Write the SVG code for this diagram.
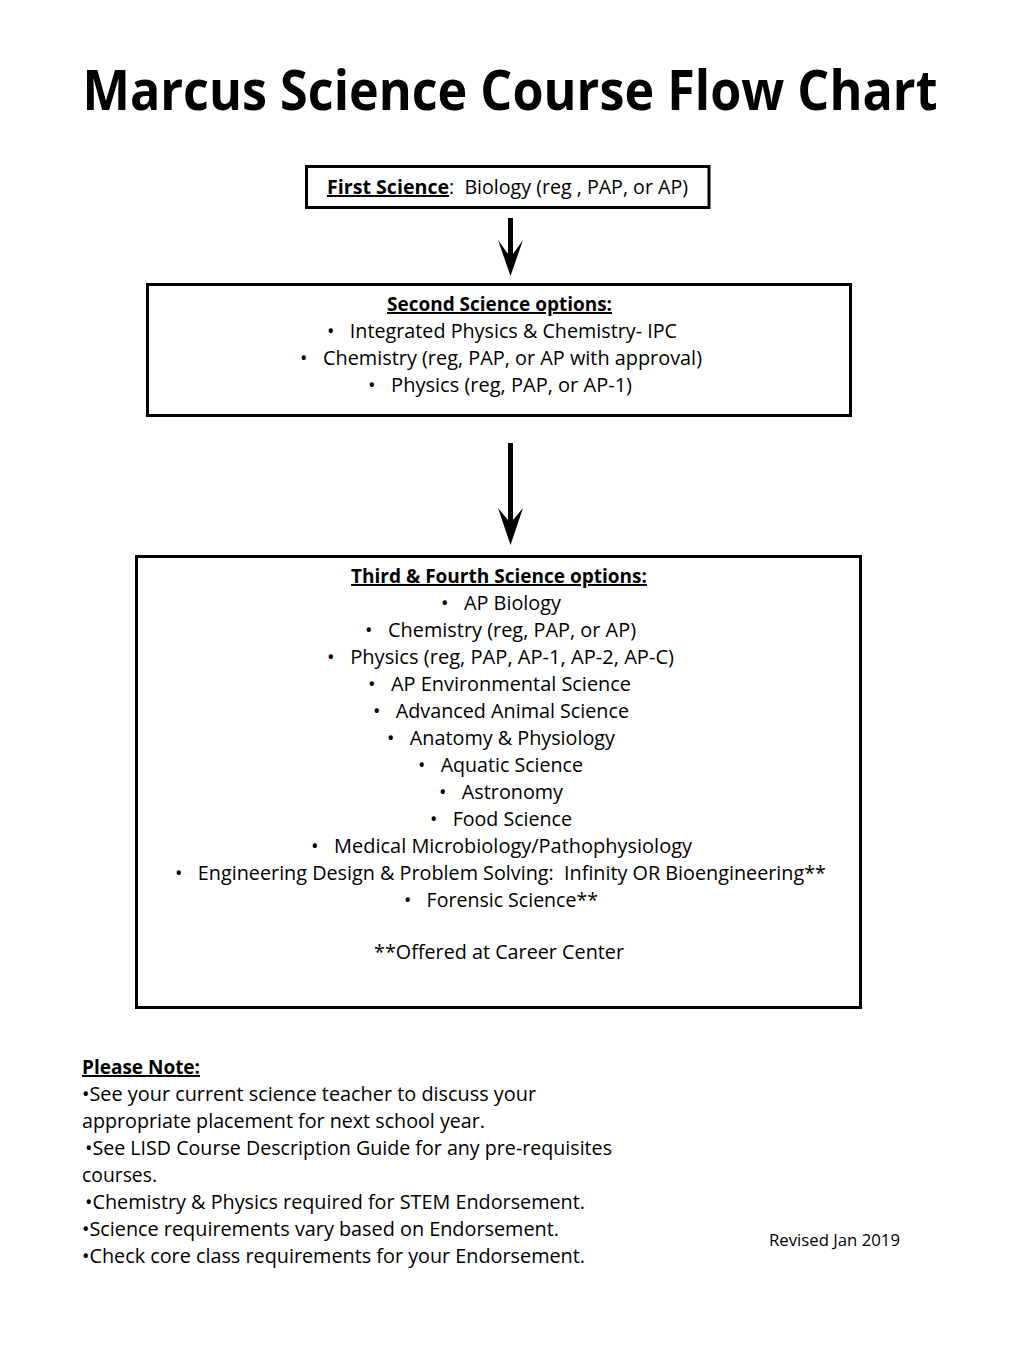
<svg xmlns="http://www.w3.org/2000/svg" width="1020" height="1360" viewBox="0 0 1020 1360" xml:space="preserve">
<style>
  text { font-family: "Open Sans", "Noto Sans", "Liberation Sans", sans-serif; fill: #000; }
  .t { font-size: 19.5px; }
  .c { text-anchor: middle; }
  .b { font-weight: bold; }
  .u { text-decoration: underline; }
  .box { fill: #fff; stroke: #000; stroke-width: 3; }
  .arrow { fill: #000; }
</style>
<rect width="1020" height="1360" fill="#fff"/>
<text x="510" y="110" class="c b" font-size="55" textLength="855" lengthAdjust="spacingAndGlyphs">Marcus Science Course Flow Chart</text>
<g id="connectors">
  <polygon class="arrow" points="508,218 513,218 513,254 523,240 510.5,276 498,240 508,254"/>
  <polygon class="arrow" points="508,443 513,443 513,520 523,508 510.5,545 498,508 508,520"/>
</g>
<g id="first">
  <rect class="box" x="306.5" y="166.5" width="402.5" height="41"/>
  <text x="327" y="194" class="t" textLength="361" lengthAdjust="spacingAndGlyphs"><tspan class="b u">First Science</tspan>:&#160; Biology (reg , PAP, or AP)</text>
</g>
<g id="second">
  <rect class="box" x="147.5" y="284.5" width="703" height="131"/>
  <text x="499.5" y="311" class="t c b u" textLength="225" lengthAdjust="spacingAndGlyphs">Second Science options:</text>
  <text x="502" y="338" class="t c" textLength="350" lengthAdjust="spacingAndGlyphs">•&#160;&#160;&#160;Integrated Physics &amp; Chemistry- IPC</text>
  <text x="501" y="365" class="t c" textLength="402" lengthAdjust="spacingAndGlyphs">•&#160;&#160;&#160;Chemistry (reg, PAP, or AP with approval)</text>
  <text x="500" y="392" class="t c" textLength="264" lengthAdjust="spacingAndGlyphs">•&#160;&#160;&#160;Physics (reg, PAP, or AP-1)</text>
</g>
<g id="third">
  <rect class="box" x="136.5" y="556.5" width="724" height="451"/>
  <text x="499" y="583" class="t c b u" textLength="296" lengthAdjust="spacingAndGlyphs">Third &amp; Fourth Science options:</text>
  <text x="501" y="610" class="t c" textLength="120" lengthAdjust="spacingAndGlyphs">•&#160;&#160;&#160;AP Biology</text>
  <text x="500.5" y="637" class="t c" textLength="271" lengthAdjust="spacingAndGlyphs">•&#160;&#160;&#160;Chemistry (reg, PAP, or AP)</text>
  <text x="500.5" y="664" class="t c" textLength="347" lengthAdjust="spacingAndGlyphs">•&#160;&#160;&#160;Physics (reg, PAP, AP-1, AP-2, AP-C)</text>
  <text x="499.5" y="691" class="t c" textLength="263" lengthAdjust="spacingAndGlyphs">•&#160;&#160;&#160;AP Environmental Science</text>
  <text x="501" y="718" class="t c" textLength="256" lengthAdjust="spacingAndGlyphs">•&#160;&#160;&#160;Advanced Animal Science</text>
  <text x="501" y="745" class="t c" textLength="228" lengthAdjust="spacingAndGlyphs">•&#160;&#160;&#160;Anatomy &amp; Physiology</text>
  <text x="500.5" y="772" class="t c" textLength="165" lengthAdjust="spacingAndGlyphs">•&#160;&#160;&#160;Aquatic Science</text>
  <text x="501" y="799" class="t c" textLength="124" lengthAdjust="spacingAndGlyphs">•&#160;&#160;&#160;Astronomy</text>
  <text x="501" y="826" class="t c" textLength="142" lengthAdjust="spacingAndGlyphs">•&#160;&#160;&#160;Food Science</text>
  <text x="501.5" y="853" class="t c" textLength="381" lengthAdjust="spacingAndGlyphs">•&#160;&#160;&#160;Medical Microbiology/Pathophysiology</text>
  <text x="500.5" y="880" class="t c" textLength="651" lengthAdjust="spacingAndGlyphs">•&#160;&#160;&#160;Engineering Design &amp; Problem Solving:&#160; Infinity OR Bioengineering**</text>
  <text x="501" y="907" class="t c" textLength="194" lengthAdjust="spacingAndGlyphs">•&#160;&#160;&#160;Forensic Science**</text>
  <text x="499" y="959" class="t c" textLength="250" lengthAdjust="spacingAndGlyphs">**Offered at Career Center</text>
</g>
<g id="notes">
  <text x="82" y="1074" class="t b u" textLength="118" lengthAdjust="spacingAndGlyphs">Please Note:</text>
  <text x="82" y="1101" class="t" textLength="454" lengthAdjust="spacingAndGlyphs">•See your current science teacher to discuss your</text>
  <text x="82" y="1128" class="t" textLength="403" lengthAdjust="spacingAndGlyphs">appropriate placement for next school year.</text>
  <text x="85" y="1155" class="t" textLength="527" lengthAdjust="spacingAndGlyphs">•See LISD Course Description Guide for any pre-requisites</text>
  <text x="82" y="1182" class="t" textLength="75" lengthAdjust="spacingAndGlyphs">courses.</text>
  <text x="85" y="1209" class="t" textLength="500" lengthAdjust="spacingAndGlyphs">•Chemistry &amp; Physics required for STEM Endorsement.</text>
  <text x="82" y="1236" class="t" textLength="477" lengthAdjust="spacingAndGlyphs">•Science requirements vary based on Endorsement.</text>
  <text x="82" y="1263" class="t" textLength="503" lengthAdjust="spacingAndGlyphs">•Check core class requirements for your Endorsement.</text>
  <text x="769" y="1246" font-size="15.5" textLength="131" lengthAdjust="spacingAndGlyphs">Revised Jan 2019</text>
</g>
</svg>
